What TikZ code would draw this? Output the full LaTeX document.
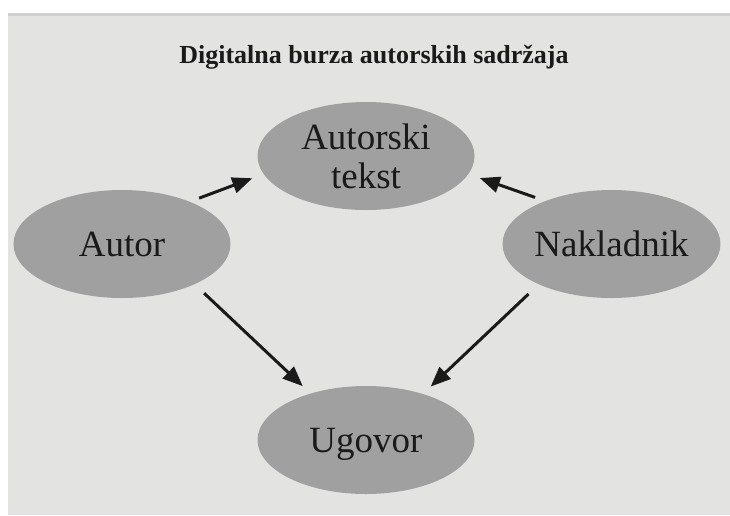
\documentclass[tikz,border=0pt]{standalone}
\usepackage{fontspec}
\setmainfont{Liberation Serif}
\usetikzlibrary{shapes.geometric,arrows.meta}
\definecolor{panel}{HTML}{E3E3E2}
\definecolor{panelshade}{HTML}{CFCFCE}
\definecolor{blobfill}{HTML}{A0A0A0}
\definecolor{ink}{HTML}{1A1A1A}
\begin{document}
\begin{tikzpicture}[x=1pt,y=-1pt,
  blob/.style={ellipse, fill=blobfill, minimum width=217pt, minimum height=108pt,
    inner sep=0pt, font=\fontsize{37}{39}\selectfont, text=ink, align=center},
  link/.style={line width=3pt, draw=ink, -{Triangle[length=20pt,width=16pt]}}]
\useasboundingbox (0,0) rectangle (730,515);
\fill[white] (0,0) rectangle (730,515);
\fill[panel] (8,13) rectangle (730,515);
\fill[panelshade] (8,13) rectangle (730,15.5);
\node[font=\bfseries\fontsize{26}{30}\selectfont, text=ink, anchor=base] (title) at (374,63) {Digitalna burza autorskih sadržaja};
\node[blob] (tekst) at (366,156) {Autorski\\tekst};
\node[blob, text depth=0pt] (autor) at (122,244) {Autor};
\node[blob, text depth=0pt] (nakl) at (611.5,244) {Nakladnik};
\node[blob, text depth=0pt] (ugovor) at (366,440) {Ugovor};
\draw[link, shorten <=10pt, shorten >=12pt] (autor.32.6) -- (tekst.190.5);
\draw[link, shorten <=10.7pt, shorten >=12pt] (nakl.147.9) -- (tekst.-10.6);
\draw[link, shorten <=13pt, shorten >=10.6pt] (autor.-29.5) -- (ugovor.140.9);
\draw[link, shorten <=14pt, shorten >=10.6pt] (nakl.209.1) -- (ugovor.39.1);
\end{tikzpicture}
\end{document}
